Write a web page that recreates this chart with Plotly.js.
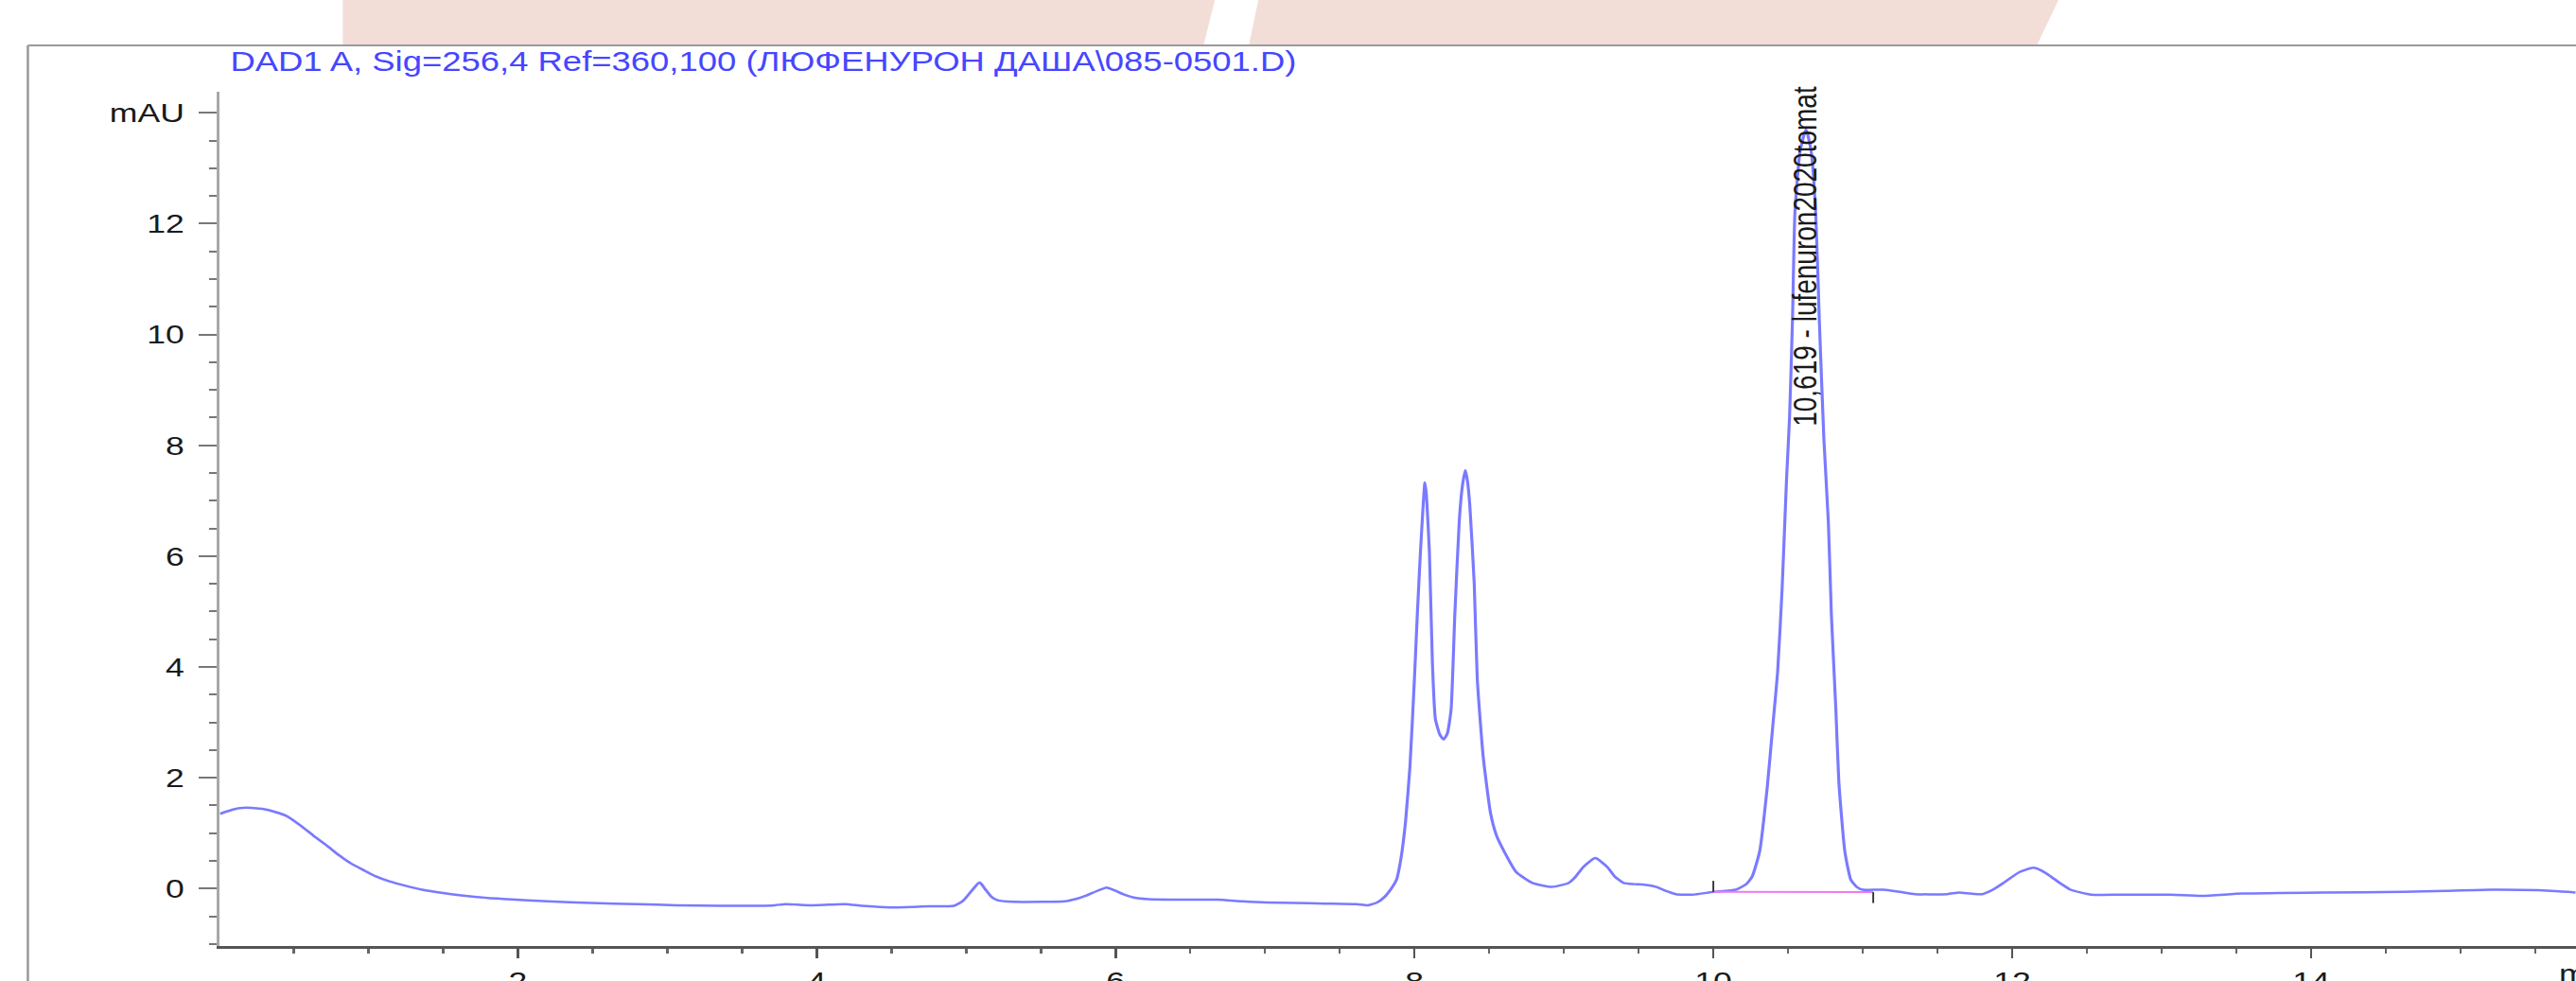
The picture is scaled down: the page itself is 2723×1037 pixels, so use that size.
<!DOCTYPE html>
<html>
<head>
<meta charset="utf-8">
<script src="https://cdn.plot.ly/plotly-3.0.1.min.js"></script>
<style>
  html, body { margin: 0; padding: 0; background: #ffffff; overflow: hidden; }
  #wrap { width: 2723px; height: 1037px; overflow: hidden; position: relative; }
  #chart { width: 2144px; height: 1037px; transform: scaleX(1.27); transform-origin: 0 0; }
</style>
</head>
<body>
<div id="wrap"><div id="chart"></div></div>
<script>
// Retention time (min) and detector signal (mAU)
const timeMin = [
  0.007, 0.10, 0.18, 0.29, 0.38, 0.46, 0.55, 0.63, 0.72, 0.80,
  0.88, 0.97, 1.05, 1.14, 1.25, 1.36, 1.50, 1.65, 1.80, 1.93,
  2.20, 2.49, 2.80, 3.06, 3.35, 3.62, 3.72, 3.79, 3.87, 3.96,
  4.08, 4.19, 4.30, 4.42, 4.53, 4.65, 4.75, 4.92, 4.98, 5.04,
  5.09, 5.13, 5.17, 5.21, 5.32, 5.50, 5.66, 5.73, 5.80, 5.87,
  5.94, 6.00, 6.05, 6.12, 6.22, 6.45, 6.68, 6.85, 7.01, 7.20,
  7.40, 7.61, 7.69, 7.75, 7.80, 7.85, 7.88, 7.91, 7.94, 7.97,
  8.00, 8.02, 8.04, 8.06, 8.07, 8.08, 8.10, 8.12, 8.14, 8.17,
  8.195, 8.22, 8.245, 8.27, 8.30, 8.32, 8.34, 8.355, 8.37, 8.40,
  8.42, 8.46, 8.51, 8.55, 8.60, 8.68, 8.79, 8.92, 9.03, 9.08,
  9.13, 9.21, 9.29, 9.34, 9.40, 9.47, 9.54, 9.62, 9.68, 9.75,
  9.86, 10.00, 10.15, 10.22, 10.26, 10.31, 10.36, 10.40, 10.43, 10.46,
  10.49, 10.51, 10.53, 10.546, 10.58, 10.62, 10.655, 10.685, 10.71, 10.74,
  10.77, 10.79, 10.82, 10.84, 10.88, 10.92, 10.96, 11.00, 11.14, 11.25,
  11.35, 11.565, 11.645, 11.72, 11.80, 11.87, 11.94, 12.05, 12.14, 12.20,
  12.26, 12.33, 12.39, 12.53, 12.74, 13.06, 13.27, 13.54, 14.08, 14.61,
  14.90, 15.20, 15.52, 15.77
];
const signalMAU = [
  1.35, 1.43, 1.46, 1.44, 1.38, 1.30, 1.13, 0.96, 0.78, 0.61,
  0.46, 0.33, 0.22, 0.13, 0.05, -0.02, -0.08, -0.13, -0.17, -0.19,
  -0.23, -0.26, -0.28, -0.30, -0.31, -0.31, -0.30, -0.28, -0.29, -0.30,
  -0.29, -0.28, -0.31, -0.33, -0.34, -0.33, -0.32, -0.31, -0.22, -0.03,
  0.11, -0.02, -0.15, -0.21, -0.24, -0.24, -0.23, -0.19, -0.13, -0.05,
  0.02, -0.04, -0.10, -0.16, -0.19, -0.20, -0.20, -0.23, -0.25, -0.26,
  -0.27, -0.28, -0.30, -0.25, -0.15, 0.02, 0.16, 0.55, 1.20, 2.21,
  3.80, 5.00, 6.07, 7.00, 7.33, 7.10, 6.07, 4.08, 3.06, 2.78,
  2.69, 2.80, 3.23, 4.94, 6.64, 7.25, 7.55, 7.35, 6.93, 5.50,
  3.80, 2.38, 1.35, 0.95, 0.67, 0.30, 0.10, 0.03, 0.10, 0.22,
  0.39, 0.55, 0.39, 0.22, 0.10, 0.08, 0.07, 0.03, -0.04, -0.10,
  -0.11, -0.06, -0.02, 0.08, 0.22, 0.67, 1.81, 3.00, 3.90, 5.40,
  7.40, 8.50, 10.30, 12.20, 13.30, 13.70, 13.30, 12.20, 10.20, 8.10,
  6.60, 4.94, 3.23, 1.92, 0.67, 0.16, 0.03, -0.02, -0.02, -0.06,
  -0.10, -0.10, -0.07, -0.09, -0.10, -0.02, 0.10, 0.30, 0.375, 0.32,
  0.215, 0.08, -0.02, -0.11, -0.11, -0.11, -0.13, -0.09, -0.07, -0.06,
  -0.04, -0.02, -0.03, -0.07
];

// Integration baseline of the lufenuron peak and its start / end markers
const baselineT = [10.00, 11.07];
const baselineV = [-0.06, -0.065];
const startMarkT = [10.00, 10.00];
const startMarkV = [-0.06, 0.14];
const endMarkT = [11.07, 11.07];
const endMarkV = [-0.065, -0.26];

// Axis ticks
const xTickVals = [2, 4, 6, 8, 10, 12, 14];
const xTickText = ['2', '4', '6', '8', '10', '12', '14'];
const yTickVals = [0, 2, 4, 6, 8, 10, 12, 14];
const yTickText = ['0', '2', '4', '6', '8', '10', '12', 'mAU'];

// Texts
const titleText = 'DAD1 A, Sig=256,4 Ref=360,100 (ЛЮФЕНУРОН ДАША\\085-0501.D)';
const peakLabel = '10,619 - lufenuron2020tomat';
const peakRT = 10.613;
const xUnit = 'min';

const FONT = 'Liberation Sans, Arial, Helvetica, sans-serif';

const traces = [
  {
    x: timeMin, y: signalMAU, type: 'scatter', mode: 'lines',
    line: { color: 'rgb(122,122,255)', width: 2.5, shape: 'spline', smoothing: 0.5 },
    hoverinfo: 'x+y', showlegend: false
  },
  {
    x: baselineT, y: baselineV, type: 'scatter', mode: 'lines',
    line: { color: 'rgb(240,120,240)', width: 2 }, showlegend: false, hoverinfo: 'skip'
  },
  {
    x: startMarkT, y: startMarkV, type: 'scatter', mode: 'lines',
    line: { color: '#333333', width: 1.5 }, showlegend: false, hoverinfo: 'skip'
  },
  {
    x: endMarkT, y: endMarkV, type: 'scatter', mode: 'lines',
    line: { color: '#333333', width: 1.5 }, showlegend: false, hoverinfo: 'skip'
  }
];

// pixel helpers (reference geometry): plot area x 232..2723, y 97..1000
function px(x) { return (x - 232) / 2491; }
function py(y) { return (1000 - y) / 903; }

const layout = {
  width: 2144, height: 1037,
  margin: { l: 183, r: 0, t: 97, b: 37, pad: 0 },
  paper_bgcolor: '#ffffff', plot_bgcolor: '#ffffff',
  showlegend: false,
  title: {
    text: titleText,
    xref: 'paper', yref: 'container',
    x: px(243), xanchor: 'left',
    y: 1 - 65 / 1037, yanchor: 'middle',
    font: { family: FONT, size: 28.7, color: 'rgb(70,70,255)' }
  },
  xaxis: {
    range: [0.006, 15.772], autorange: false, automargin: false,
    showgrid: false, zeroline: false,
    showline: true, linecolor: '#555555', linewidth: 3,
    ticks: 'outside', ticklen: 10, tickwidth: 2, tickcolor: '#555555',
    tickmode: 'array', tickvals: xTickVals, ticktext: xTickText,
    ticklabelstandoff: 0,
    tickfont: { family: FONT, size: 28, color: '#1a1a1a' },
    minor: { tickmode: 'linear', tick0: 0, dtick: 0.5, ticks: 'outside', ticklen: 5, tickwidth: 2, tickcolor: '#666666', showgrid: false }
  },
  yaxis: {
    range: [-1.036, 14.38], autorange: false, automargin: false,
    showgrid: false, zeroline: false,
    showline: true, linecolor: '#a8a8a8', linewidth: 3,
    ticks: 'outside', ticklen: 15, tickwidth: 2, tickcolor: '#777777',
    tickmode: 'array', tickvals: yTickVals, ticktext: yTickText,
    ticklabelstandoff: 6,
    tickfont: { family: FONT, size: 28, color: '#1a1a1a' },
    minor: { tickmode: 'linear', tick0: 0, dtick: 0.5, ticks: 'outside', ticklen: 6, tickwidth: 2, tickcolor: '#777777', showgrid: false }
  },
  shapes: [
    // decorative pink backdrop above the frame
    { type: 'path', xref: 'paper', yref: 'paper', layer: 'below', line: { width: 0 }, fillcolor: '#f2ded7',
      path: 'M ' + px(362) + ',' + py(0) + ' L ' + px(1284) + ',' + py(0) + ' L ' + px(1272) + ',' + py(48) + ' L ' + px(362) + ',' + py(48) + ' Z' },
    { type: 'path', xref: 'paper', yref: 'paper', layer: 'below', line: { width: 0 }, fillcolor: '#f2ded7',
      path: 'M ' + px(1330) + ',' + py(0) + ' L ' + px(2176) + ',' + py(0) + ' L ' + px(2153) + ',' + py(48) + ' L ' + px(1320) + ',' + py(48) + ' Z' },
    // outer frame
    { type: 'line', xref: 'paper', yref: 'paper', x0: px(29), x1: px(29), y0: py(1040), y1: py(48), line: { color: '#9a9a9a', width: 2 } },
    { type: 'line', xref: 'paper', yref: 'paper', x0: px(29), x1: 1.01, y0: py(48), y1: py(48), line: { color: '#9a9a9a', width: 2 } }
  ],
  annotations: [
    { text: peakLabel, x: peakRT, y: 8.31, xref: 'x', yref: 'y', textangle: -90,
      xanchor: 'center', yanchor: 'bottom', showarrow: false,
      font: { family: FONT, size: 28, color: '#1a1a1a' } },
    { text: xUnit, xref: 'paper', yref: 'paper', x: px(2703), y: py(1012), xanchor: 'left', yanchor: 'top',
      showarrow: false, font: { family: FONT, size: 28, color: '#1a1a1a' } }
  ]
};

Plotly.newPlot('chart', traces, layout, { displayModeBar: false, staticPlot: true });
</script>
</body>
</html>
